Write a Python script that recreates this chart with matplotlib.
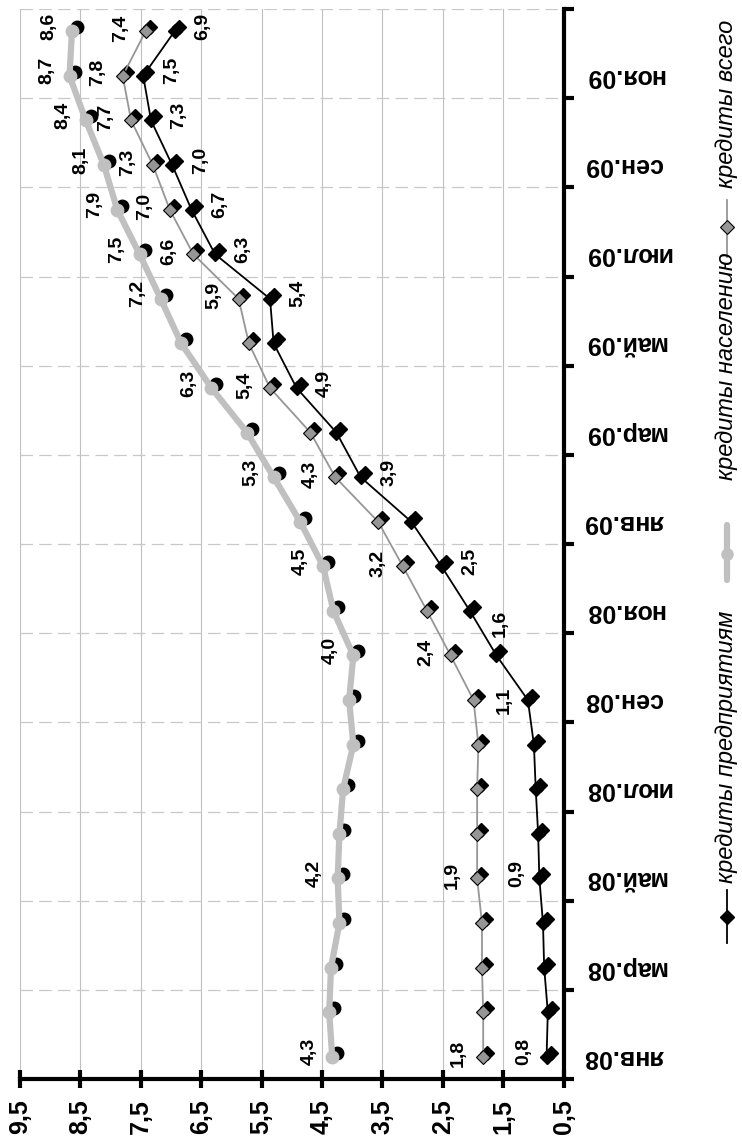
import matplotlib
matplotlib.use("Agg")
import matplotlib.pyplot as plt
import matplotlib.transforms as mtransforms
import numpy as np

plt.rcParams['font.family'] = ['Liberation Sans', 'DejaVu Sans']

# ---------------- data ----------------
months = ['янв.08', 'фев.08', 'мар.08', 'апр.08', 'май.08', 'июн.08',
          'июл.08', 'авг.08', 'сен.08', 'окт.08', 'ноя.08', 'дек.08',
          'янв.09', 'фев.09', 'мар.09', 'апр.09', 'май.09', 'июн.09',
          'июл.09', 'авг.09', 'сен.09', 'окт.09', 'ноя.09', 'дек.09']
tick_months = months[::2]

enterprises = [0.78, 0.76, 0.82, 0.84, 0.90, 0.92, 0.96, 0.99, 1.09, 1.61, 2.05, 2.52,
               3.02, 3.86, 4.26, 4.92, 5.30, 5.36, 6.27, 6.66, 6.98, 7.33, 7.46, 6.94]
households = [4.33, 4.38, 4.35, 4.21, 4.24, 4.21, 4.15, 3.98, 4.05, 3.98, 4.31, 4.48,
              4.86, 5.30, 5.74, 6.33, 6.83, 7.17, 7.52, 7.89, 8.11, 8.41, 8.68, 8.64]
total = [1.83, 1.83, 1.85, 1.85, 1.93, 1.93, 1.93, 1.91, 1.99, 2.37, 2.76, 3.16,
         3.57, 4.28, 4.69, 5.36, 5.71, 5.88, 6.63, 7.02, 7.30, 7.66, 7.80, 7.42]

name_ent = 'кредиты предприятиям'
name_hh = 'кредиты населению'
name_tot = 'кредиты всего'

value_ticks = [0.5, 1.5, 2.5, 3.5, 4.5, 5.5, 6.5, 7.5, 8.5, 9.5]
value_tick_labels = ['0,5', '1,5', '2,5', '3,5', '4,5', '5,5', '6,5', '7,5', '8,5', '9,5']

labeled_hh = [0, 4, 9, 11, 13, 15, 17, 18, 19, 20, 21, 22, 23]
labeled_tot = [0, 4, 9, 11, 13, 15, 17, 18, 19, 20, 21, 22, 23]
labeled_ent = [0, 4, 8, 9, 11, 13, 15, 17, 18, 19, 20, 21, 22, 23]

# ---------------- styling / layout ----------------
W, H = 742, 1144
fig = plt.figure(figsize=(W / 100, H / 100), dpi=100)
ax = fig.add_axes([20 / W, 65 / H, 543.5 / W, 1070 / H])

pos = np.arange(len(months))
shadow = mtransforms.offset_copy(ax.transData, fig=fig, x=4, y=4, units='dots')

# total (grey thin line, grey diamonds)
ax.plot(total, pos, ls='none', marker='D', ms=7.5, color='black', transform=shadow, zorder=3)
ax.plot(total, pos, color='#969696', lw=1.3, marker='D', ms=7.5, mfc='#969696',
        mec='black', mew=0.8, zorder=4)
# enterprises (black)
ax.plot(enterprises, pos, ls='none', marker='D', ms=7.5, color='black', transform=shadow, zorder=3)
ax.plot(enterprises, pos, color='black', lw=1.3, marker='D', ms=7.5, mfc='black',
        mec='black', zorder=4)
# households (thick light grey)
ax.plot(households, pos, ls='none', marker='o', ms=9, color='black',
        transform=mtransforms.offset_copy(ax.transData, fig=fig, x=5, y=4, units='dots'), zorder=3)
ax.plot(households, pos, color='#c0c0c0', lw=4.5, marker='o', ms=9, mfc='#c0c0c0',
        mec='#c0c0c0', zorder=4, solid_capstyle='round')


def fmt(v):
    return f"{v:.1f}".replace('.', ',')


label_kw = dict(textcoords='offset pixels', rotation=90, ha='center', va='center',
                fontsize=14, fontweight='bold', zorder=6)
for i in labeled_hh:
    ax.annotate(fmt(households[i]), xy=(households[i], pos[i]), xytext=(-23, 5), **label_kw)
for i in labeled_tot:
    ax.annotate(fmt(total[i]), xy=(total[i], pos[i]), xytext=(-25, 3), **label_kw)
ent_offsets = {0: (-23, 5), 4: (-23, 5), 8: (-24, 0), 9: (4, 32)}
for i in labeled_ent:
    off = ent_offsets.get(i, (28, 5))
    ax.annotate(fmt(enterprises[i]), xy=(enterprises[i], pos[i]), xytext=off, **label_kw)

# axes
ax.set_xlim(9.5, 0.5)
ax.set_ylim(-0.5, len(months) - 0.5)
ax.set_xticks(value_ticks)
ax.set_xticklabels(value_tick_labels, rotation=90, fontsize=18, fontweight='bold')
ax.tick_params(axis='x', direction='inout', length=13, width=3, pad=8)

ax.yaxis.tick_right()
ax.set_yticks(np.arange(-0.5, len(months), 2))
ax.set_yticklabels([])
ax.set_yticks(pos[::2], minor=True)
ax.set_yticklabels(tick_months, minor=True, rotation=180, fontsize=18, fontweight='bold',
                   va='center')
ax.tick_params(axis='y', which='major', direction='out', length=7, width=3,
               right=True, left=False, labelleft=False)
ax.tick_params(axis='y', which='minor', length=0, pad=15, right=False, left=False,
               labelright=True, labelleft=False)

ax.xaxis.grid(True, color='#c0c0c0', lw=0.8, ls='-')
ax.yaxis.grid(True, which='major', color='#c8c8c8', lw=0.9, ls=(0, (10, 5)))
ax.set_axisbelow(True)

for s in ('top', 'left'):
    ax.spines[s].set_visible(False)
for s in ('bottom', 'right'):
    ax.spines[s].set_linewidth(3)
    ax.spines[s].set_color('black')

# ---------------- legend (rotated, drawn manually) ----------------
lax = fig.add_axes([0, 0, 1, 1], facecolor='none')
lax.set_xlim(0, W)
lax.set_ylim(H, 0)
lax.axis('off')

lx = 727
leg_kw = dict(rotation=90, rotation_mode='anchor', ha='left', va='baseline',
              fontsize=17, fontstyle='italic')
# кредиты предприятиям
lax.plot([lx, lx], [890, 943], color='black', lw=1.3)
lax.plot([lx], [917], marker='D', ms=7, color='black')
lax.text(lx + 6, 883, name_ent, **leg_kw)
# кредиты населению
lax.plot([lx, lx], [525, 580], color='#c0c0c0', lw=4.5, solid_capstyle='round')
lax.plot([lx], [554], marker='o', ms=8, color='#c0c0c0')
lax.text(lx + 6, 480, name_hh, **leg_kw)
# кредиты всего
lax.plot([lx, lx], [200, 257], color='#969696', lw=1.3)
lax.plot([lx], [227], marker='D', ms=7, mfc='#969696', mec='black', mew=0.8)
lax.text(lx + 6, 188, name_tot, **leg_kw)

fig.savefig('out.png', dpi=100)
